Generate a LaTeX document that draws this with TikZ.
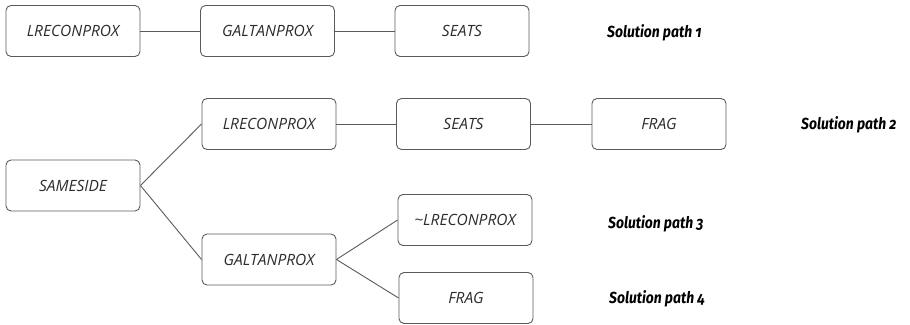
\documentclass[tikz,border=0pt]{standalone}
\usepackage{fontspec}
\setmainfont{Open Sans}
\newfontfamily\labelfont[Numbers=OldStyle, FakeStretch=0.87]{Fira Sans}
\definecolor{linegray}{HTML}{5A5A5A}
\definecolor{textgray}{HTML}{2C2C2C}
\begin{document}
\begin{tikzpicture}[x=1pt,y=-1pt,
  box/.style={draw=linegray, line width=0.9pt, rounded corners=5pt,
    minimum width=134pt, minimum height=51pt, inner sep=0pt,
    font=\fontsize{15.5}{18}\selectfont\itshape, text=textgray},
  link/.style={draw=linegray, line width=0.9pt},
  sol/.style={anchor=base west, inner sep=0pt,
    font=\labelfont\bfseries\itshape\fontsize{16}{18}\selectfont}]
\useasboundingbox (0,0) rectangle (910,324);
% row 1
\node[box] (a1) at (73,31) {LRECONPROX};
\node[box] (a2) at (267.5,31) {GALTANPROX};
\node[box] (a3) at (462,31) {SEATS};
% tree
\node[box] (s) at (73,185.5) {SAMESIDE};
\node[box] (b1) at (269,124) {LRECONPROX};
\node[box] (b2) at (463.5,124) {SEATS};
\node[box] (b3) at (659,124) {FRAG};
\node[box] (c1) at (269,259.5) {GALTANPROX};
\node[box] (c2) at (465,220) {\textasciitilde LRECONPROX};
\node[box] (c3) at (466,298) {FRAG};
% connectors
\draw[link] (a1.east) -- (a2.west);
\draw[link] (a2.east) -- (a3.west);
\draw[link] (s.east) -- (b1.west);
\draw[link] (s.east) -- (c1.west);
\draw[link] (b1.east) -- (b2.west);
\draw[link] (b2.east) -- (b3.west);
\draw[link] (c1.east) -- (c2.west);
\draw[link] (c1.east) -- (c3.west);
% labels
\node[sol] (l1) at (607,37.5) {Solution path 1};
\node[sol] (l2) at (801,129) {Solution path 2};
\node[sol] (l3) at (608,228) {Solution path 3};
\node[sol] (l4) at (609,303) {Solution path 4};
\end{tikzpicture}
\end{document}
